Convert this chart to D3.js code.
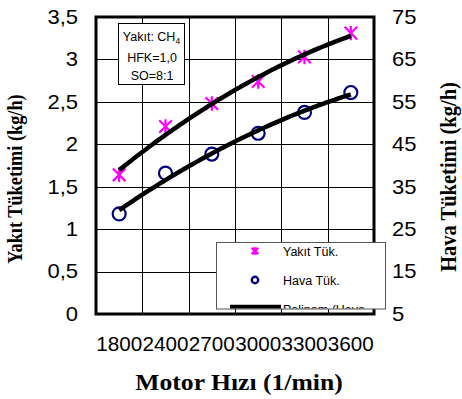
<!DOCTYPE html>
<html>
<head>
<meta charset="utf-8">
<script src="https://cdn.jsdelivr.net/npm/d3@7"></script>
<style>
  html, body { margin: 0; padding: 0; background: #fff; }
  svg { display: block; }
</style>
</head>
<body>
<svg id="chart" width="462" height="399"></svg>
<script>
// Engine speed categories (1/min)
const speeds = ["1800", "2400", "2700", "3000", "3300", "3600"];
// Fuel consumption, kg/h (left axis)
const fuelUse = [1.64, 2.21, 2.48, 2.74, 3.03, 3.31];
// Air consumption, kg/h (right axis)
const airUse = [28.6, 38.2, 42.7, 47.6, 52.5, 57.2];
// Axis tick values
const leftTicks = [0, 0.5, 1, 1.5, 2, 2.5, 3, 3.5];
const rightTicks = [5, 15, 25, 35, 45, 55, 65, 75];
// Legend and note texts
const legendLabels = [["Yakıt Tük."], ["Hava Tük."], ["Polinom (Hava", "Tük.)"]];
const noteLines = ["HFK=1,0", "SO=8:1"];

const svg = d3.select("#chart");
const plot = { left: 96, right: 374, top: 17, bottom: 314 };

const x = d3.scaleBand().domain(speeds).range([plot.left, plot.right]).padding(0);
const yL = d3.scaleLinear().domain([0, 3.5]).range([plot.bottom, plot.top]);
const yR = d3.scaleLinear().domain([5, 75]).range([plot.bottom, plot.top]);

const trLocale = d3.formatLocale({ decimal: ",", thousands: ".", grouping: [3], currency: ["", ""] });
const fmt = trLocale.format("~g");
const sans = "Liberation Sans, Arial, sans-serif";
const serif = "Liberation Serif, Times New Roman, serif";

// Grid
const grid = svg.append("g").attr("stroke", "#000").attr("stroke-width", 1).attr("shape-rendering", "crispEdges");
grid.selectAll("line.h").data(leftTicks.slice(1, -1)).join("line")
  .attr("x1", plot.left).attr("x2", plot.right)
  .attr("y1", d => Math.round(yL(d)) + 0.5).attr("y2", d => Math.round(yL(d)) + 0.5);
grid.selectAll("line.v").data(speeds.slice(1)).join("line")
  .attr("x1", d => Math.round(x(d)) + 0.5).attr("x2", d => Math.round(x(d)) + 0.5)
  .attr("y1", plot.top).attr("y2", plot.bottom);

function styleTicks(axis, size, stretch) {
  axis.select(".domain").remove();
  axis.selectAll(".tick text")
    .attr("font-family", sans).attr("font-size", size).attr("fill", "#000")
    .each(function () {
      const t = d3.select(this);
      const tx = +t.attr("x") || 0;
      t.attr("x", tx / stretch).attr("transform", `scale(${stretch},1)`);
    });
}

// Left axis
const axL = svg.append("g").attr("transform", `translate(${plot.left},0)`)
  .call(d3.axisLeft(yL).tickValues(leftTicks).tickSize(0).tickPadding(18).tickFormat(fmt));
styleTicks(axL, 20, 1.1);

// Right axis
const axR = svg.append("g").attr("transform", `translate(${plot.right},0)`)
  .call(d3.axisRight(yR).tickValues(rightTicks).tickSize(0).tickPadding(18).tickFormat(fmt));
styleTicks(axR, 20, 1.1);

// Bottom axis
const axB = svg.append("g").attr("transform", `translate(0,${plot.bottom})`)
  .call(d3.axisBottom(x).tickSize(0).tickPadding(23));
styleTicks(axB, 19.5, 1.06);

// Plot frame
svg.append("rect")
  .attr("x", plot.left).attr("y", plot.top)
  .attr("width", plot.right - plot.left).attr("height", plot.bottom - plot.top)
  .attr("fill", "none").attr("stroke", "#000").attr("stroke-width", 3);

// Axis titles
svg.append("text")
  .attr("transform", `translate(239,390) scale(1.14,1)`)
  .attr("text-anchor", "middle")
  .attr("font-family", serif).attr("font-weight", "bold").attr("font-size", 22.5)
  .text("Motor Hızı (1/min)");
svg.append("text")
  .attr("transform", `translate(22,179) scale(1.14,1) rotate(-90)`)
  .attr("text-anchor", "middle")
  .attr("font-family", serif).attr("font-weight", "bold").attr("font-size", 18.3)
  .text("Yakıt Tüketimi (kg/h)");
svg.append("text")
  .attr("transform", `translate(456,177) scale(1.14,1) rotate(-90)`)
  .attr("text-anchor", "middle")
  .attr("font-family", serif).attr("font-weight", "bold").attr("font-size", 20.5)
  .text("Hava Tüketimi (kg/h)");

// Quadratic least-squares trend on category index 1..n
function quadFit(vals) {
  const s = [0, 0, 0, 0, 0], t = [0, 0, 0];
  vals.forEach((v, i) => {
    const xi = i + 1;
    for (let k = 0; k < 5; k++) s[k] += Math.pow(xi, k);
    for (let k = 0; k < 3; k++) t[k] += v * Math.pow(xi, k);
  });
  const A = [[s[0], s[1], s[2], t[0]], [s[1], s[2], s[3], t[1]], [s[2], s[3], s[4], t[2]]];
  for (let c = 0; c < 3; c++) {
    for (let r = c + 1; r < 3; r++) {
      const f = A[r][c] / A[c][c];
      for (let k = c; k < 4; k++) A[r][k] -= f * A[c][k];
    }
  }
  const b = [0, 0, 0];
  for (let r = 2; r >= 0; r--) {
    let acc = A[r][3];
    for (let k = r + 1; k < 3; k++) acc -= A[r][k] * b[k];
    b[r] = acc / A[r][r];
  }
  return xi => b[0] + b[1] * xi + b[2] * xi * xi;
}

const bw = x.bandwidth();
const cx = u => x(speeds[0]) + bw / 2 + u * bw;
const markX = d => x(d) + bw / 2;

// Markers
function starPath(px, py, r) {
  return `M${px - r},${py - r}L${px + r},${py + r}M${px - r},${py + r}L${px + r},${py - r}M${px},${py - r * 1.15}L${px},${py + r * 1.15}`;
}
svg.append("g").selectAll("path").data(speeds).join("path")
  .attr("d", (d, i) => starPath(markX(d), yL(fuelUse[i]), 6.3))
  .attr("stroke", "#FF00FF").attr("stroke-width", 2.2).attr("fill", "none");
svg.append("g").selectAll("circle").data(speeds).join("circle")
  .attr("cx", d => markX(d)).attr("cy", (d, i) => yR(airUse[i]))
  .attr("r", 6.5).attr("fill", "none").attr("stroke", "#000080").attr("stroke-width", 2.2);

// Trend curves
function trend(vals, yScale) {
  const f = quadFit(vals);
  const pts = d3.range(0, vals.length - 1 + 1e-9, 0.05).map(u => [cx(u), yScale(f(u + 1))]);
  svg.append("path").attr("d", d3.line()(pts))
    .attr("fill", "none").attr("stroke", "#000").attr("stroke-width", 4.5);
}
trend(fuelUse, yL);
trend(airUse, yR);

// Note box
const note = svg.append("g");
note.append("rect").attr("x", 118.5).attr("y", 23.5).attr("width", 66).attr("height", 61)
  .attr("fill", "#fff").attr("stroke", "#000").attr("stroke-width", 1);
const t1 = note.append("text").attr("x", 151.5).attr("y", 41).attr("text-anchor", "middle")
  .attr("font-family", sans).attr("font-size", 12.5);
t1.append("tspan").text("Yakıt: CH");
t1.append("tspan").attr("font-size", 8.5).attr("dy", 3).text("4");
note.selectAll("text.l").data(noteLines).join("text")
  .attr("x", 152).attr("y", (d, i) => 62 + i * 18).attr("text-anchor", "middle")
  .attr("font-family", sans).attr("font-size", 12.5)
  .text(d => d);

// Legend (box clips its last entry)
const lg = { x: 216, y: 242, w: 169, h: 66.5 };
svg.append("clipPath").attr("id", "lgclip").append("rect")
  .attr("x", lg.x).attr("y", lg.y).attr("width", lg.w).attr("height", lg.h);
const legend = svg.append("g");
legend.append("rect").attr("x", lg.x + 0.5).attr("y", lg.y + 0.5).attr("width", lg.w).attr("height", lg.h)
  .attr("fill", "#fff").attr("stroke", "#555").attr("stroke-width", 1);
const lgIn = legend.append("g").attr("clip-path", "url(#lgclip)");
lgIn.append("path").attr("d", starPath(255, 251, 3.2))
  .attr("stroke", "#FF00FF").attr("stroke-width", 2.6).attr("fill", "none");
lgIn.append("circle").attr("cx", 255).attr("cy", 280).attr("r", 3.2)
  .attr("fill", "none").attr("stroke", "#000080").attr("stroke-width", 2.4);
lgIn.append("line").attr("x1", 230).attr("x2", 281).attr("y1", 307).attr("y2", 307)
  .attr("stroke", "#000").attr("stroke-width", 4.5);
lgIn.selectAll("text").data(legendLabels).join("text")
  .attr("y", (d, i) => 256 + i * 29)
  .attr("font-family", sans).attr("font-size", 12.5)
  .selectAll("tspan").data(d => d).join("tspan")
  .attr("x", 283).attr("dy", (d, j) => j === 0 ? 0 : 15)
  .text(d => d);
</script>
</body>
</html>
